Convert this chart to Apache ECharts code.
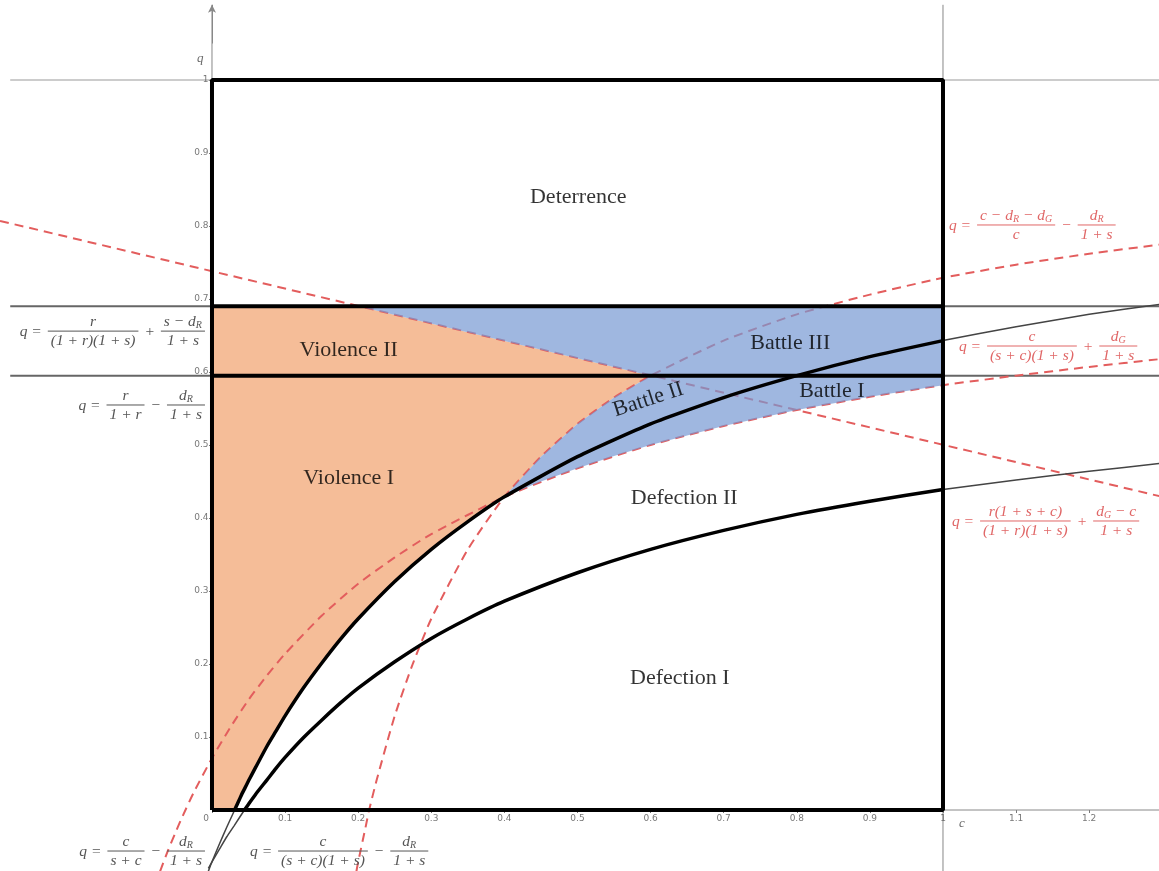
<!DOCTYPE html>
<html><head><meta charset="utf-8">
<script src="https://cdn.jsdelivr.net/npm/echarts@6/dist/echarts.min.js"></script>
<style>html,body{margin:0;padding:0;background:#fff}#main{width:1159px;height:871px}</style>
</head><body><div id="main"></div>
<script>
// ---------------- data ----------------
const xTickValues = [0, 0.1, 0.2, 0.3, 0.4, 0.5, 0.6, 0.7, 0.8, 0.9, 1, 1.1, 1.2, 1.3];
const yTickValues = [0.1, 0.2, 0.3, 0.4, 0.5, 0.6, 0.7, 0.8, 0.9, 1];

// q = c/(s+c) - dR/(1+s)   (upper black curve)
const upperCurve = [[-0.005,-0.084],[0,-0.071],[0.01,-0.047],[0.02,-0.024],[0.031,0],[0.035,0.009],[0.04,0.020],[0.045,0.030],[0.05,0.040],[0.06,0.059],[0.075,0.087],[0.0875,0.108],[0.1,0.129],[0.125,0.167],[0.15,0.201],[0.175,0.233],[0.2,0.262],[0.25,0.313],[0.3,0.357],[0.35,0.395],[0.4,0.429],[0.5,0.484],[0.6,0.529],[0.7,0.565],[0.8,0.595],[0.9,0.621],[1.0,0.643],[1.1,0.662],[1.2,0.679],[1.3,0.693]];
// q = c/((s+c)(1+s)) - dR/(1+s)   (lower black curve)
const lowerCurve = [[-0.005,-0.080],[0,-0.071],[0.01,-0.054],[0.02,-0.037],[0.03,-0.022],[0.0444,0],[0.05,0.008],[0.06,0.022],[0.075,0.041],[0.0875,0.057],[0.1,0.072],[0.125,0.099],[0.15,0.123],[0.175,0.146],[0.2,0.167],[0.25,0.203],[0.3,0.235],[0.35,0.262],[0.4,0.286],[0.5,0.325],[0.6,0.357],[0.7,0.383],[0.8,0.405],[0.9,0.423],[1.0,0.439],[1.1,0.452],[1.2,0.464],[1.3,0.475]];
// q = (c - dR - dG)/c - dR/(1+s)   (red dashed, rising)
const redRising = [[0.1976,-0.084],[0.2,-0.071],[0.21,-0.024],[0.215,0],[0.225,0.040],[0.25,0.129],[0.275,0.201],[0.3,0.262],[0.35,0.357],[0.4,0.429],[0.45,0.484],[0.5,0.529],[0.55,0.565],[0.6,0.595],[0.7,0.643],[0.8,0.679],[0.9,0.706],[1.0,0.729],[1.1,0.747],[1.2,0.762],[1.3,0.775]];
// q = c/((s+c)(1+s)) + dG/(1+s)   (red dashed, middle)
const redMiddle = [[-0.071,-0.084],[-0.06,-0.055],[-0.05,-0.031],[-0.04,-0.008],[-0.025,0.024],[0,0.071],[0.025,0.113],[0.05,0.151],[0.075,0.184],[0.1,0.214],[0.15,0.266],[0.2,0.310],[0.25,0.346],[0.3,0.378],[0.4,0.429],[0.5,0.468],[0.6,0.500],[0.7,0.526],[0.8,0.548],[0.9,0.566],[1.0,0.582],[1.1,0.595],[1.2,0.607],[1.3,0.618]];
// q = r(1+s+c)/((1+r)(1+s)) + (dG-c)/(1+s)   (red dashed, falling)
const redFalling = [[-0.29,0.807],[1.3,0.429]];

const qLow = 0.595;   // q = r/(1+r) - dR/(1+s)
const qHigh = 0.690;  // q = r/((1+r)(1+s)) + (s-dR)/(1+s)

const violenceRegion = [[0,0],[0.031,0],[0.035,0.009],[0.04,0.020],[0.045,0.030],[0.05,0.040],[0.06,0.059],[0.075,0.087],[0.0875,0.108],[0.1,0.129],[0.125,0.167],[0.15,0.201],[0.175,0.233],[0.2,0.262],[0.25,0.313],[0.3,0.357],[0.35,0.395],[0.4,0.429],[0.45,0.484],[0.5,0.529],[0.55,0.565],[0.6,0.595],[0.2,0.690],[0,0.690]];
const battleRegion = [[0.4,0.429],[0.45,0.450],[0.5,0.468],[0.55,0.485],[0.6,0.500],[0.7,0.526],[0.8,0.548],[0.9,0.566],[1.0,0.582],[1.0,0.690],[0.2,0.690],[0.6,0.595],[0.55,0.565],[0.5,0.529],[0.45,0.484]];

const regionNames = ['Deterrence','Violence II','Violence I','Battle III','Battle II','Battle I','Defection II','Defection I'];
const regionPos = [[0.501,0.840],[0.187,0.630],[0.187,0.455],[0.791,0.640],[0.597,0.562],[0.848,0.574],[0.646,0.427],[0.640,0.180]];
const regionRotate = [0,0,0,0,18,0,0,0];

const axisNames = ['c','q'];
const axisNamePos = [[1.026,-0.019],[-0.016,1.030]];

const formulaTexts = [
  ['q =', ['r','(1 + r)(1 + s)'], '+', ['s − d_R','1 + s']],
  ['q =', ['r','1 + r'], '−', ['d_R','1 + s']],
  ['q =', ['c','s + c'], '−', ['d_R','1 + s']],
  ['q =', ['c','(s + c)(1 + s)'], '−', ['d_R','1 + s']],
  ['q =', ['c − d_R − d_G','c'], '−', ['d_R','1 + s']],
  ['q =', ['c','(s + c)(1 + s)'], '+', ['d_G','1 + s']],
  ['q =', ['r(1 + s + c)','(1 + r)(1 + s)'], '+', ['d_G − c','1 + s']]
];
const formulaAnchor = [[-0.0096,0.656],[-0.0096,0.5548],[-0.0096,-0.0562],[0.052,-0.0562],[1.0082,0.8014],[1.0219,0.6356],[1.0123,0.3959]];
const formulaAlign = ['right','right','right','left','left','left','left'];
const formulaRed = [false,false,false,false,true,true,true];

// ---------------- chart ----------------
const BLACK = '#000', RED = '#e35d5d';
const chart = echarts.init(document.getElementById('main'));

function lineSeries(data, color, width, z, dashed, opts) {
  return Object.assign({
    type: 'line', data: data, showSymbol: false, symbol: 'none', z: z, silent: true,
    lineStyle: { color: color, width: width, type: dashed ? [9, 6] : 'solid' },
    animation: false
  }, opts || {});
}
function polygonSeries(points, color, opacity, z) {
  return {
    type: 'custom', coordinateSystem: 'cartesian2d', data: points, z: z, silent: true,
    encode: { x: 0, y: 1 }, animation: false,
    renderItem: function (params, api) {
      if (params.dataIndex !== 0) return null;
      return { type: 'polygon', shape: { points: points.map(p => api.coord(p)) },
        style: { fill: color, opacity: opacity } };
    }
  };
}
function labelSeries(data, label, z) {
  return { type: 'scatter', z: z || 10, silent: true, symbolSize: 1, animation: false,
    itemStyle: { color: 'rgba(0,0,0,0)' }, data: data, label: Object.assign({ show: true }, label) };
}
const thickUpper = upperCurve.filter(p => p[0] >= 0.031 && p[0] <= 1);
const thickLower = lowerCurve.filter(p => p[0] >= 0.0444 && p[0] <= 1);

const option = {
  animation: false,
  backgroundColor: '#fff',
  grid: { left: 0, right: 0, top: 0, bottom: 0, containLabel: false, outerBoundsMode: 'none' },
  xAxis: {
    type: 'value', min: -0.29, max: 1.2955,
    axisLine: { onZero: true, lineStyle: { color: 'rgba(0,0,0,0)' } },
    axisTick: { show: true, customValues: xTickValues, length: 3, lineStyle: { color: '#777' } },
    axisLabel: { show: false },
    splitLine: { show: false }
  },
  yAxis: {
    type: 'value', min: -0.08356, max: 1.10959,
    axisLine: { onZero: true, lineStyle: { color: 'rgba(0,0,0,0)' } },
    axisTick: { show: true, customValues: yTickValues, length: 3, lineStyle: { color: '#777' } },
    axisLabel: { show: false },
    splitLine: { show: false }
  },
  series: [
    // background guide lines
    lineSeries([[-0.276, 1], [1.3, 1]], '#999', 1, 1),
    lineSeries([[-0.276, qHigh], [1.3, qHigh]], '#666', 2, 1),
    lineSeries([[-0.276, qLow], [1.3, qLow]], '#666', 2, 1),
    lineSeries([[1, -0.09], [1, 1.103]], '#888', 1, 1),
    lineSeries([[0, 0], [1.3, 0]], '#888', 1, 1),
    lineSeries([[0, 0], [0, 1.103]], '#888', 1, 1, false, {
      markLine: { silent: true, symbol: ['none', 'arrow'], symbolSize: [6, 8], label: { show: false },
        lineStyle: { color: '#888', width: 1, type: 'solid' },
        data: [[{ coord: [0, 1.05] }, { coord: [0, 1.103] }]] }
    }),
    // regions
    polygonSeries(violenceRegion, '#f5bd98', 1, 2),
    // red dashed curves
    lineSeries(redRising, RED, 2, 3, true, { smooth: 0.2 }),
    lineSeries(redMiddle, RED, 2, 3, true, { smooth: 0.2 }),
    lineSeries(redFalling, RED, 2, 3, true),
    polygonSeries(battleRegion, 'rgb(118,152,211)', 0.7, 4),
    // thin grey full curves
    lineSeries(upperCurve, '#444', 1.5, 5, false, { smooth: 0.2 }),
    lineSeries(lowerCurve, '#444', 1.5, 5, false, { smooth: 0.2 }),
    // thick black
    lineSeries(thickUpper, BLACK, 3.5, 6, false, { smooth: 0.2 }),
    lineSeries(thickLower, BLACK, 3.5, 6, false, { smooth: 0.2 }),
    lineSeries([[0, qHigh], [1, qHigh]], BLACK, 4, 6),
    lineSeries([[0, qLow], [1, qLow]], BLACK, 4, 6),
    lineSeries([[0, 0], [1, 0], [1, 1], [0, 1], [0, 0]], BLACK, 4, 6),
    // tick labels
    labelSeries(xTickValues.map(v => ({ value: [v, 0], name: String(v), label: v === 0 ? { offset: [-6, 0] } : {} })),
      { position: 'bottom', distance: 4, formatter: '{b}', fontSize: 9, color: '#555', fontFamily: 'DejaVu Sans' }),
    labelSeries(yTickValues.map(v => ({ value: [0, v], name: String(v) })),
      { position: 'left', distance: 3, formatter: '{b}', fontSize: 9, color: '#555', fontFamily: 'DejaVu Sans' }),
    // region labels
    labelSeries(regionNames.map((n, i) => ({ name: n, value: regionPos[i], label: { rotate: regionRotate[i] } })),
      { position: 'inside', formatter: '{b}', fontFamily: 'Liberation Serif', fontSize: 22, color: '#000' }),
    // axis names
    labelSeries(axisNames.map((n, i) => ({ name: n, value: axisNamePos[i] })),
      { position: 'inside', formatter: '{b}', fontFamily: 'Liberation Serif', fontStyle: 'italic', fontSize: 13, color: '#444' })
  ]
};
chart.setOption(option);

// ---------------- formula labels (stacked fractions) ----------------
const FS = 15.5, SUB = 10, FONT = 'Liberation Serif';
const ctx = document.createElement('canvas').getContext('2d');
function textWidth(str) {
  let w = 0;
  str.split(/(d_[RG])/).forEach(p => {
    if (/^d_[RG]$/.test(p)) {
      ctx.font = 'italic ' + FS + 'px "' + FONT + '"'; w += ctx.measureText('d').width;
      ctx.font = 'italic ' + SUB + 'px "' + FONT + '"'; w += ctx.measureText(p[2]).width;
    } else { ctx.font = 'italic ' + FS + 'px "' + FONT + '"'; w += ctx.measureText(p).width; }
  });
  return w;
}
function toRich(str) { return str.replace(/d_([RG])/g, 'd{sub|$1}'); }
function textEl(str, x, y, align, valign, color) {
  return { type: 'text', x: x, y: y, silent: true, z: 20,
    style: { text: toRich(str), fill: color, fontSize: FS, fontFamily: FONT, fontStyle: 'italic',
      align: align, verticalAlign: valign,
      rich: { sub: { fontSize: SUB, fontFamily: FONT, fontStyle: 'italic', fill: color, verticalAlign: 'bottom' } } } };
}
const graphics = [];
formulaTexts.forEach((parts, k) => {
  const color = formulaRed[k] ? '#e06666' : '#555';
  const gap = 6;
  const items = parts.map(p => typeof p === 'string'
    ? { t: p, w: textWidth(p) }
    : { n: p[0], d: p[1], w: Math.max(textWidth(p[0]), textWidth(p[1])) + 6 });
  const total = items.reduce((a, it) => a + it.w, 0) + gap * (items.length - 1);
  const px = chart.convertToPixel({ gridIndex: 0 }, formulaAnchor[k]);
  let x = formulaAlign[k] === 'right' ? px[0] - total : px[0];
  const y = px[1];
  items.forEach(it => {
    if (it.t !== undefined) {
      graphics.push(textEl(it.t, x, y + 1, 'left', 'middle', color));
    } else {
      const cx = x + it.w / 2;
      graphics.push(textEl(it.n, cx, y - 1, 'center', 'bottom', color));
      graphics.push(textEl(it.d, cx, y + 2, 'center', 'top', color));
      graphics.push({ type: 'line', silent: true, z: 20, shape: { x1: x, y1: y, x2: x + it.w, y2: y },
        style: { stroke: color, lineWidth: 1 } });
    }
    x += it.w + gap;
  });
});
chart.setOption({ graphic: graphics });
</script>
</body></html>
